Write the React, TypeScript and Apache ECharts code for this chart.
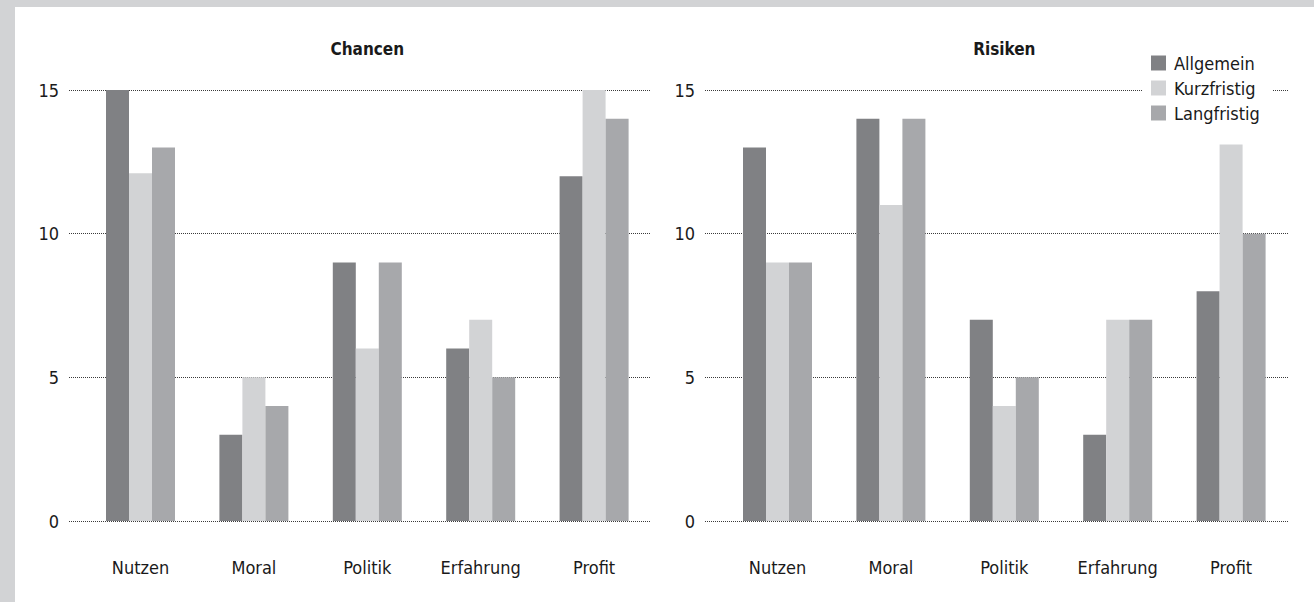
import React, { useEffect, useRef } from "react";
import * as echarts from "echarts";

const categories = ["Nutzen", "Moral", "Politik", "Erfahrung", "Profit"];
const seriesNames = ["Allgemein", "Kurzfristig", "Langfristig"];
const colors = ["#808184", "#d2d3d5", "#a7a8ab"];

const chancenAllgemein = [15, 3, 9, 6, 12];
const chancenKurzfristig = [12.1, 5, 6, 7, 15];
const chancenLangfristig = [13, 4, 9, 5, 14];

const risikenAllgemein = [13, 14, 7, 3, 8];
const risikenKurzfristig = [9, 11, 4, 7, 13.1];
const risikenLangfristig = [9, 14, 5, 7, 10];

const yTicks = { min: 0, max: 15, interval: 5 };

const FONT = "'DejaVu Sans Condensed', 'Liberation Sans Narrow', sans-serif";

export default function App() {
  const ref = useRef<HTMLDivElement>(null);
  useEffect(() => {
    if (!ref.current) return;
    const chart = echarts.init(ref.current, null, { renderer: "svg" });
    const top = 90;
    const bottom = 602 - 521;
    const W = 1314;
    const gridLine = (left: number, right: number) => ({ left, right: W - right, top, bottom });
    const grids = [
      gridLine(69, 651),
      gridLine(83.8, 650.8),
      gridLine(705, 1289),
      gridLine(720.8, 1287.8),
    ];
    const lineY = (gi: number) => ({
      type: "value",
      gridIndex: gi,
      ...yTicks,
      axisLine: { show: false },
      axisTick: { show: false },
      axisLabel: { fontFamily: FONT, fontSize: 18, color: "#1a1a1a", margin: 10 },
      splitLine: { show: true, lineStyle: { color: "#3a3a3a", type: [1, 1], width: 1 } },
    });
    const barY = (gi: number) => ({ type: "value", gridIndex: gi, ...yTicks, show: false, splitLine: { show: false } });
    const lineX = (gi: number) => ({ type: "value", gridIndex: gi, min: 0, max: 1, show: false });
    const barX = (gi: number) => ({
      type: "category",
      gridIndex: gi,
      data: categories,
      axisLine: { show: false },
      axisTick: { show: false },
      axisLabel: { fontFamily: FONT, fontSize: 18, color: "#1a1a1a", margin: 37, interval: 0 },
    });
    const panelData = [
      [chancenAllgemein, chancenKurzfristig, chancenLangfristig],
      [risikenAllgemein, risikenKurzfristig, risikenLangfristig],
    ];
    const series: any[] = [];
    panelData.forEach((arrs, p) => {
      arrs.forEach((d, i) => {
        series.push({
          type: "bar",
          name: seriesNames[i],
          xAxisIndex: p * 2 + 1,
          yAxisIndex: p * 2 + 1,
          data: d,
          barWidth: 23,
          barGap: "0%",
          itemStyle: { color: colors[i] },
          z: 3,
        });
      });
    });
    const titleStyle = { fontFamily: FONT, fontSize: 17, fontWeight: "bold", color: "#1a1a1a" };
    chart.setOption({
      animation: false,
      backgroundColor: "#d2d3d5",
      color: colors,
      graphic: [
        { type: "rect", z: -10, shape: { x: 15, y: 7, width: W - 15, height: 602 - 7 }, style: { fill: "#ffffff" } },
      ],
      title: [
        { text: "Chancen", left: 367.3, top: 40, textAlign: "center", padding: 0, textStyle: titleStyle },
        { text: "Risiken", left: 1004.3, top: 40, textAlign: "center", padding: 0, textStyle: titleStyle },
      ],
      legend: {
        data: seriesNames,
        orient: "vertical",
        left: 1143,
        top: 48,
        padding: [6, 13, 6, 8],
        backgroundColor: "#ffffff",
        itemWidth: 15,
        itemHeight: 15,
        itemGap: 7,
        icon: "rect",
        textStyle: { fontFamily: FONT, fontSize: 18, color: "#1a1a1a", padding: [0, 0, 0, 3] },
        z: 10,
      },
      grid: grids,
      xAxis: [lineX(0), barX(1), lineX(2), barX(3)],
      yAxis: [lineY(0), barY(1), lineY(2), barY(3)],
      series,
    });
    return () => chart.dispose();
  }, []);
  return <div ref={ref} style={{ position: "absolute", left: 0, top: 0, width: 1314, height: 602 }} />;
}
